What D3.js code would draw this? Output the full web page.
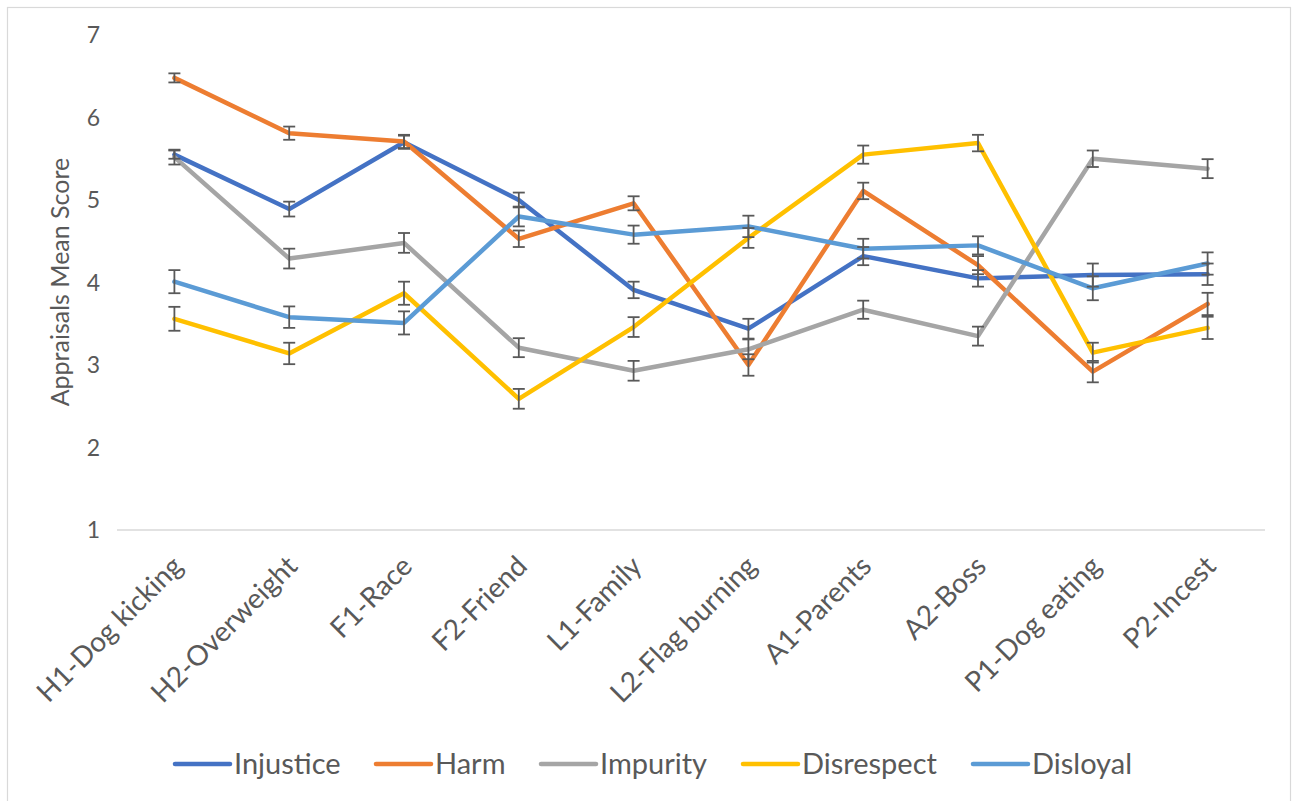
<!DOCTYPE html>
<html>
<head>
<meta charset="utf-8">
<script src="https://cdn.jsdelivr.net/npm/d3@7"></script>
<style>
  body { margin: 0; background: #fff; }
  text { font-family: Lato, "Open Sans", sans-serif; fill: #595959; }
</style>
</head>
<body>
<svg id="chart"></svg>
<script>
// categories (scenarios)
const categories = ["H1-Dog kicking", "H2-Overweight", "F1-Race", "F2-Friend", "L1-Family",
    "L2-Flag burning", "A1-Parents", "A2-Boss", "P1-Dog eating", "P2-Incest"];

const seriesNames = ["Injustice", "Harm", "Impurity", "Disrespect", "Disloyal"];
const seriesColors = ["#4472C4", "#ED7D31", "#A5A5A5", "#FFC000", "#5B9BD5"];

// mean scores
const injustice = [5.55, 4.89, 5.70, 5.00, 3.91, 3.44, 4.32, 4.05, 4.09, 4.10];
const harm = [6.48, 5.81, 5.71, 4.53, 4.96, 3.00, 5.11, 4.21, 2.92, 3.74];
const impurity = [5.52, 4.29, 4.48, 3.21, 2.93, 3.19, 3.67, 3.35, 5.50, 5.38];
const disrespect = [3.56, 3.14, 3.87, 2.59, 3.46, 4.54, 5.55, 5.69, 3.15, 3.45];
const disloyal = [4.01, 3.58, 3.51, 4.80, 4.58, 4.68, 4.41, 4.45, 3.93, 4.23];

// standard errors
const injusticeErr = [0.05, 0.09, 0.08, 0.09, 0.10, 0.12, 0.11, 0.10, 0.14, 0.13];
const harmErr = [0.055, 0.08, 0.08, 0.10, 0.085, 0.13, 0.10, 0.11, 0.13, 0.135];
const impurityErr = [0.09, 0.12, 0.12, 0.115, 0.12, 0.12, 0.11, 0.115, 0.10, 0.115];
const disrespectErr = [0.145, 0.13, 0.14, 0.12, 0.12, 0.12, 0.11, 0.10, 0.12, 0.135];
const disloyalErr = [0.14, 0.13, 0.14, 0.12, 0.11, 0.13, 0.12, 0.11, 0.145, 0.135];

const yTicks = [1, 2, 3, 4, 5, 6, 7];

const series = [
    { name: seriesNames[0], color: seriesColors[0], values: injustice, errs: injusticeErr },
    { name: seriesNames[1], color: seriesColors[1], values: harm, errs: harmErr },
    { name: seriesNames[2], color: seriesColors[2], values: impurity, errs: impurityErr },
    { name: seriesNames[3], color: seriesColors[3], values: disrespect, errs: disrespectErr },
    { name: seriesNames[4], color: seriesColors[4], values: disloyal, errs: disloyalErr }
];

const width = 1297, height = 801;
const margin = { top: 35, right: 32, bottom: 271, left: 117 };
const innerW = width - margin.left - margin.right;
const innerH = height - margin.top - margin.bottom;

const svg = d3.select("#chart")
    .attr("width", width)
    .attr("height", height);

// outer chart border
svg.append("rect")
    .attr("x", 7.5).attr("y", 7.5)
    .attr("width", 1283).attr("height", 810)
    .attr("fill", "none")
    .attr("stroke", "#D9D9D9")
    .attr("stroke-width", 1.2);

const g = svg.append("g")
    .attr("transform", `translate(${margin.left},${margin.top})`);

const x = d3.scaleBand().domain(categories).range([0, innerW]);
const y = d3.scaleLinear().domain([1, 7]).range([innerH, 0]);
const cx = d => x(d) + x.bandwidth() / 2;

// x axis line
g.append("line")
    .attr("x1", 0).attr("x2", innerW)
    .attr("y1", y(1)).attr("y2", y(1))
    .attr("stroke", "#D9D9D9")
    .attr("stroke-width", 1.5);

// y tick labels
g.selectAll(".ytick")
    .data(yTicks)
    .join("text")
    .attr("class", "ytick")
    .attr("x", -17)
    .attr("y", d => y(d))
    .attr("dy", "0.35em")
    .attr("text-anchor", "end")
    .attr("font-size", 23)
    .text(d => d);

// x tick labels, rotated
g.selectAll(".xtick")
    .data(categories)
    .join("text")
    .attr("class", "xtick")
    .attr("transform", d => `translate(${cx(d) + 3},${innerH + 31}) rotate(-45)`)
    .attr("dy", "0.35em")
    .attr("text-anchor", "end")
    .attr("font-size", 28)
    .text(d => d);

// y axis title
svg.append("text")
    .attr("transform", "translate(60,282) rotate(-90)")
    .attr("dy", "0.35em")
    .attr("text-anchor", "middle")
    .attr("font-size", 25)
    .text("Appraisals Mean Score");

const line = d3.line()
    .x((d, i) => cx(categories[i]))
    .y(d => y(d));

g.selectAll(".series")
    .data(series)
    .join("path")
    .attr("class", "series")
    .attr("d", s => line(s.values))
    .attr("fill", "none")
    .attr("stroke", s => s.color)
    .attr("stroke-width", 4.5)
    .attr("stroke-linejoin", "round")
    .attr("stroke-linecap", "round");

// error bars
const capW = 6;
series.forEach(s => {
    const eg = g.append("g")
        .attr("stroke", "#595959")
        .attr("stroke-width", 1.8);
    s.values.forEach((v, i) => {
        const px = cx(categories[i]);
        const lo = y(v - s.errs[i]), hi = y(v + s.errs[i]);
        eg.append("line").attr("x1", px).attr("x2", px).attr("y1", lo).attr("y2", hi);
        eg.append("line").attr("x1", px - capW).attr("x2", px + capW).attr("y1", lo).attr("y2", lo);
        eg.append("line").attr("x1", px - capW).attr("x2", px + capW).attr("y1", hi).attr("y2", hi);
    });
});

// legend
const legendX = [175, 376, 541, 743, 973];
const legend = svg.append("g");
series.forEach((s, i) => {
    legend.append("line")
        .attr("x1", legendX[i]).attr("x2", legendX[i] + 55)
        .attr("y1", 764).attr("y2", 764)
        .attr("stroke", s.color)
        .attr("stroke-width", 4.5)
        .attr("stroke-linecap", "round");
    legend.append("text")
        .attr("x", legendX[i] + 59)
        .attr("y", 764)
        .attr("dy", "0.36em")
        .attr("font-size", 29)
        .text(s.name);
});
</script>
</body>
</html>
